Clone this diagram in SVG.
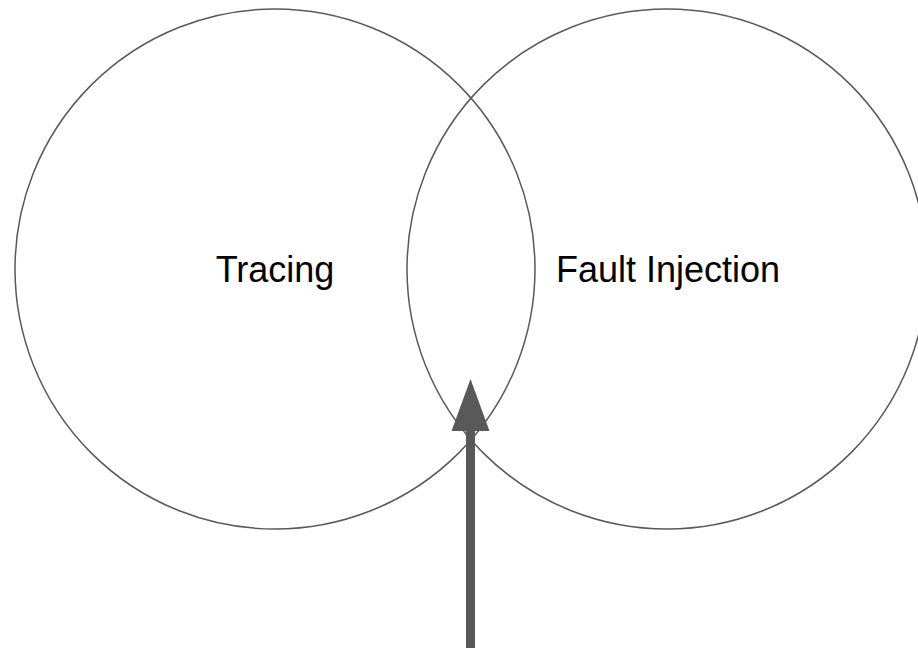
<svg xmlns="http://www.w3.org/2000/svg" width="918" height="648" viewBox="0 0 918 648">
<style>
.c{fill:none;stroke:#595959;stroke-width:1.5}
.t{font-family:"Liberation Sans",Arial,sans-serif;font-size:36px;fill:#000;text-anchor:middle}
</style>
<rect width="918" height="648" fill="#fff"/>
<g id="tracing">
<circle class="c" cx="275" cy="269" r="260"/>
<text class="t" x="275" y="282">Tracing</text>
</g>
<g id="fault-injection">
<circle class="c" cx="667" cy="269" r="260"/>
<text class="t" x="668" y="282">Fault Injection</text>
</g>
<g id="connectors">
<line x1="470.5" y1="648" x2="470.5" y2="428" stroke="#595959" stroke-width="9"/>
<polygon points="470.5,379 451.5,431 489.5,431" fill="#595959"/>
</g>
</svg>
